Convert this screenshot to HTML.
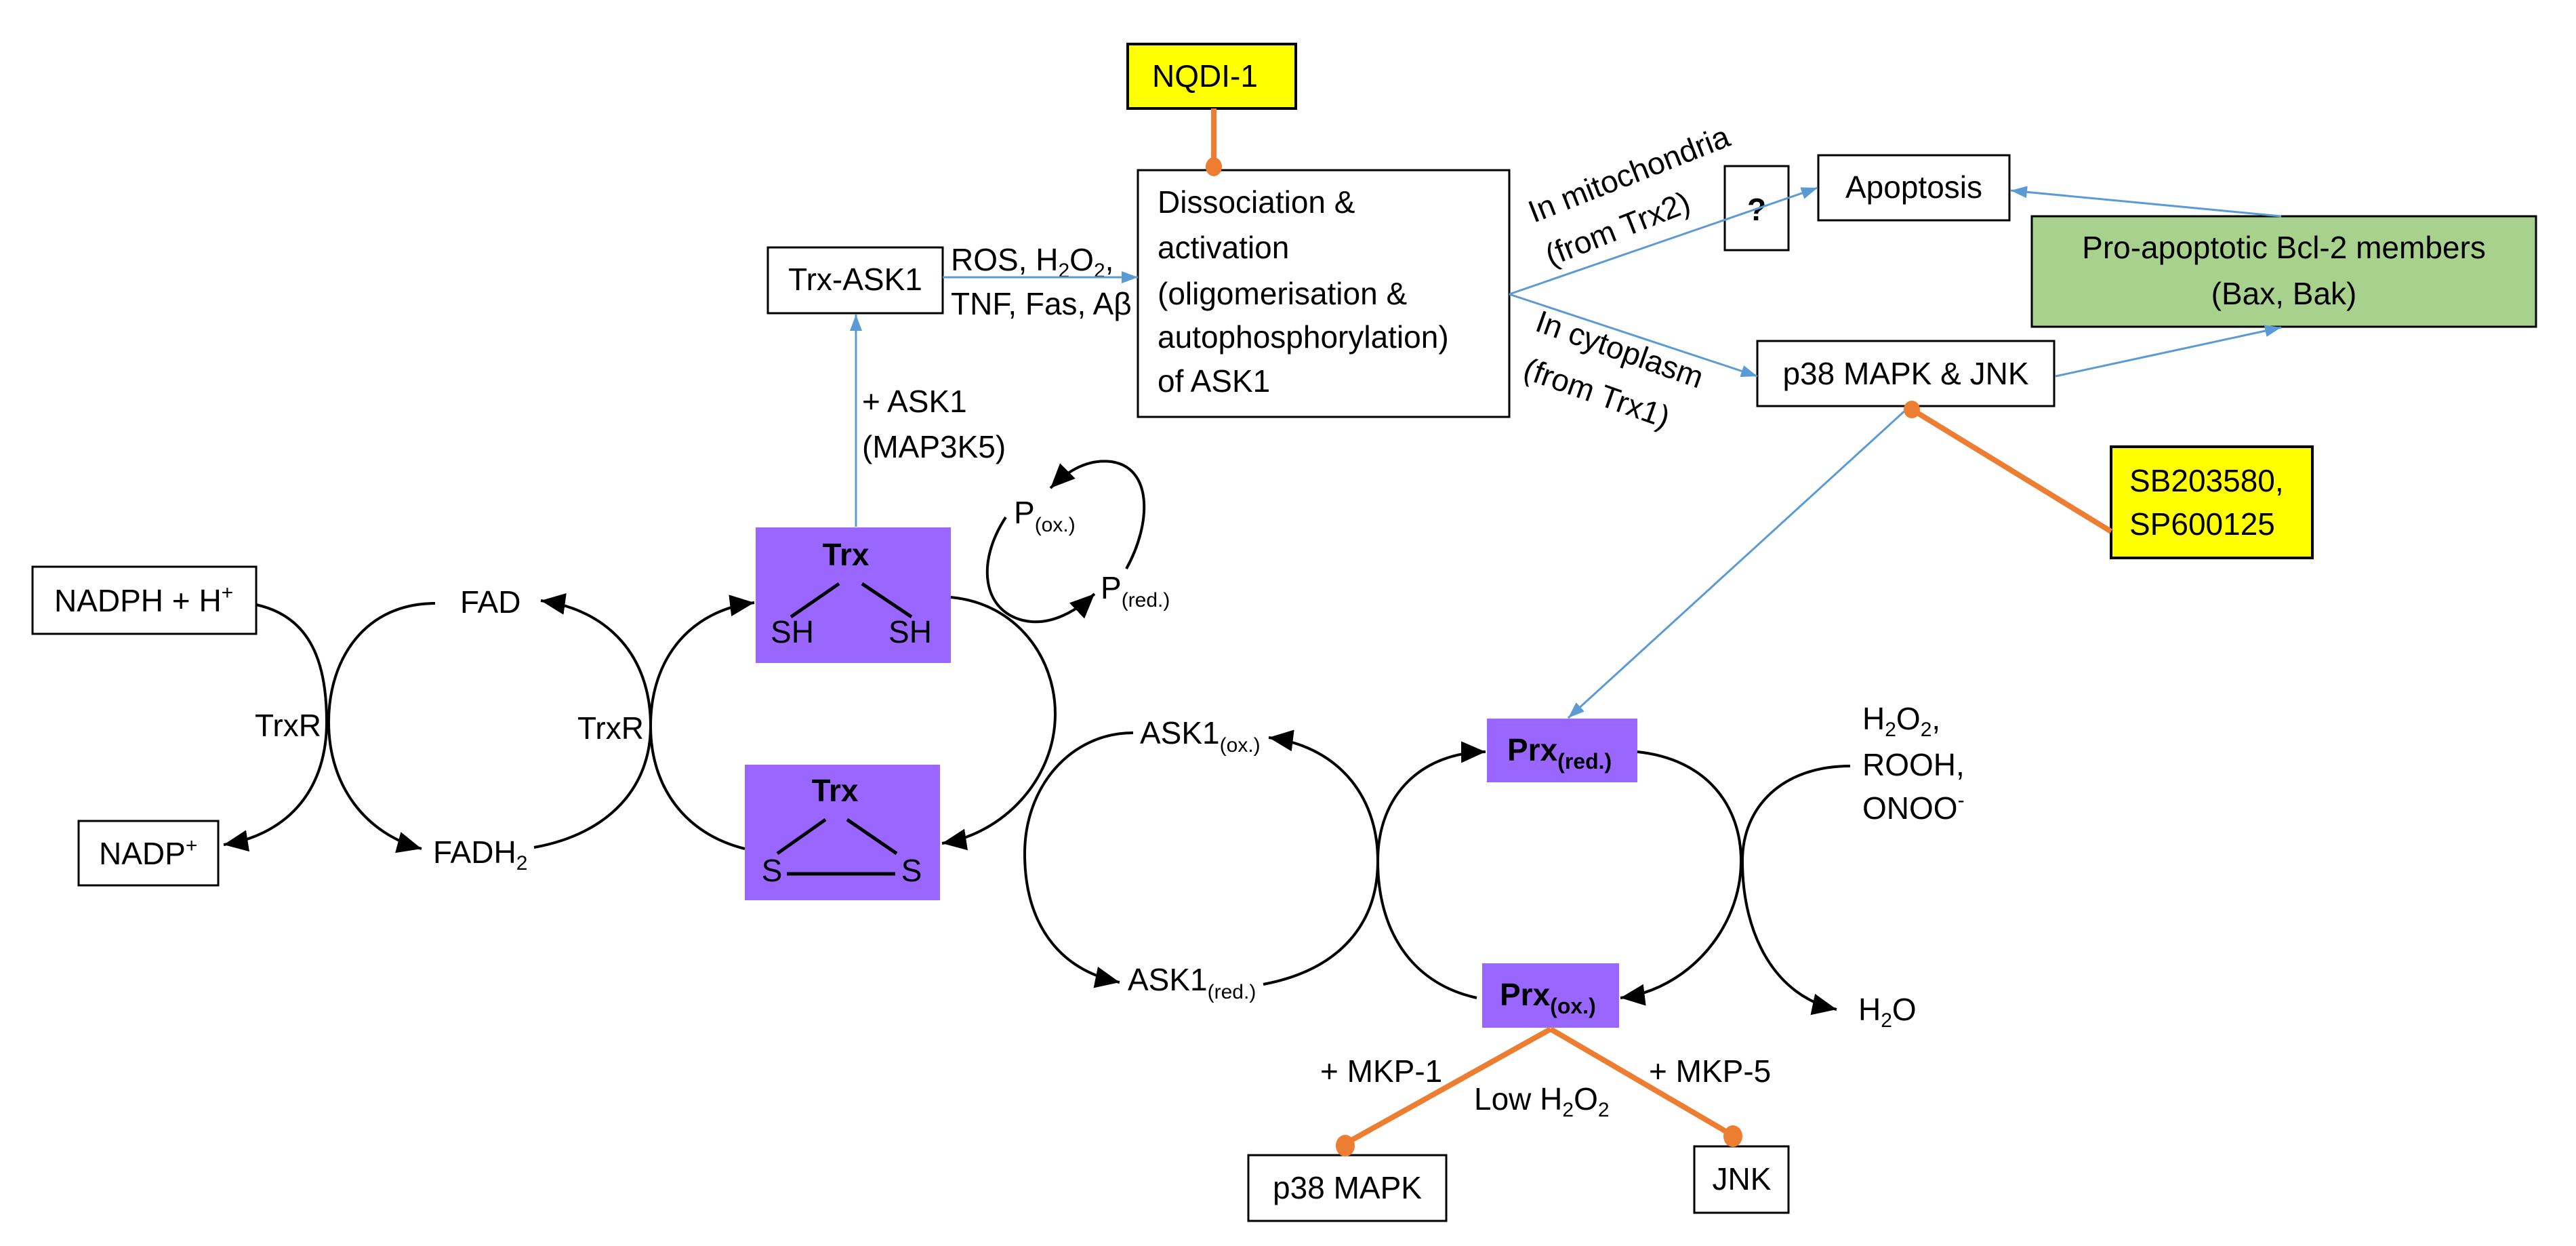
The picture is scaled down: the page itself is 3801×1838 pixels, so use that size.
<!DOCTYPE html>
<html><head><meta charset="utf-8"><style>
html,body{margin:0;padding:0;background:#fff;}
svg{display:block;}
text{font-family:"Liberation Sans",sans-serif;font-size:46px;fill:#000;}
</style></head><body>
<svg width="3801" height="1838" viewBox="0 0 3801 1838" xmlns="http://www.w3.org/2000/svg">
<defs>
<marker id="ab" markerUnits="userSpaceOnUse" markerWidth="40" markerHeight="36" refX="36" refY="16" orient="auto"><path d="M0,0 L36,16 L0,32 z" fill="#000"/></marker>
<marker id="bl" markerUnits="userSpaceOnUse" markerWidth="26" markerHeight="22" refX="24" refY="9" orient="auto"><path d="M0,0 L24,9 L0,18 z" fill="#5b9bd5"/></marker>
</defs>

<!-- boxes -->
<rect x="1664" y="65" width="248" height="95" fill="#ffff00" stroke="#000" stroke-width="4"/>
<text x="1700" y="128">NQDI-1</text>
<rect x="1679" y="251" width="548" height="364" fill="#fff" stroke="#000" stroke-width="3"/>
<text x="1708" y="314">Dissociation &amp;</text>
<text x="1708" y="381">activation</text>
<text x="1708" y="449">(oligomerisation &amp;</text>
<text x="1708" y="513">autophosphorylation)</text>
<text x="1708" y="578">of ASK1</text>

<rect x="1133" y="365" width="258" height="97" fill="#fff" stroke="#000" stroke-width="3"/>
<text x="1262" y="428" text-anchor="middle">Trx-ASK1</text>
<text x="1403" y="399">ROS, H<tspan font-size="30" dy="10">2</tspan><tspan dy="-10">O</tspan><tspan font-size="30" dy="10">2</tspan><tspan dy="-10">,</tspan></text>
<text x="1403" y="464">TNF, Fas, Aβ</text>
<text x="1272" y="608">+ ASK1</text>
<text x="1272" y="675">(MAP3K5)</text>

<rect x="2545" y="245" width="94" height="124" fill="#fff" stroke="#000" stroke-width="3"/>
<text x="2592" y="325" text-anchor="middle" font-weight="bold" font-size="52">?</text>
<rect x="2683" y="229" width="282" height="96" fill="#fff" stroke="#000" stroke-width="3"/>
<text x="2824" y="292" text-anchor="middle">Apoptosis</text>
<rect x="2998" y="319" width="744" height="163" fill="#a9d18e" stroke="#000" stroke-width="3"/>
<text x="3370" y="381" text-anchor="middle">Pro-apoptotic Bcl-2 members</text>
<text x="3370" y="449" text-anchor="middle">(Bax, Bak)</text>
<rect x="2593" y="503" width="438" height="96" fill="#fff" stroke="#000" stroke-width="3"/>
<text x="2812" y="567" text-anchor="middle">p38 MAPK &amp; JNK</text>
<rect x="3115" y="659" width="297" height="164" fill="#ffff00" stroke="#000" stroke-width="4"/>
<text x="3142" y="725">SB203580,</text>
<text x="3142" y="789">SP600125</text>

<text transform="translate(2263,329) rotate(-21.5)">In mitochondria</text>
<text transform="translate(2288,393) rotate(-21.5)">(from Trx2)</text>
<text transform="translate(2263,487) rotate(19.5)">In cytoplasm</text>
<text transform="translate(2245,557) rotate(19.5)">(from Trx1)</text>

<rect x="48" y="836" width="330" height="99" fill="#fff" stroke="#000" stroke-width="3"/>
<text x="80" y="902">NADPH + H<tspan font-size="30" dy="-18">+</tspan></text>
<rect x="116" y="1211" width="206" height="95" fill="#fff" stroke="#000" stroke-width="3"/>
<text x="146" y="1275">NADP<tspan font-size="30" dy="-18">+</tspan></text>
<text x="679" y="904">FAD</text>
<text x="639" y="1273">FADH<tspan font-size="30" dy="10">2</tspan></text>
<text x="376" y="1086">TrxR</text>
<text x="852" y="1090">TrxR</text>

<!-- Trx boxes -->
<rect x="1115" y="778" width="288" height="200" fill="#9966ff"/>
<text x="1248" y="834" text-anchor="middle" font-weight="bold" font-size="38">Trx</text>
<line x1="1238" y1="861" x2="1167" y2="910" stroke="#000" stroke-width="5"/>
<line x1="1272" y1="861" x2="1345" y2="910" stroke="#000" stroke-width="5"/>
<text x="1169" y="948" text-anchor="middle" font-size="38">SH</text>
<text x="1343" y="948" text-anchor="middle" font-size="38">SH</text>
<rect x="1099" y="1128" width="288" height="200" fill="#9966ff"/>
<text x="1232" y="1182" text-anchor="middle" font-weight="bold" font-size="38">Trx</text>
<line x1="1218" y1="1209" x2="1147" y2="1259" stroke="#000" stroke-width="5"/>
<line x1="1250" y1="1209" x2="1323" y2="1259" stroke="#000" stroke-width="5"/>
<text x="1139" y="1300" text-anchor="middle" font-size="38">S</text>
<text x="1345" y="1300" text-anchor="middle" font-size="38">S</text>
<line x1="1161" y1="1289" x2="1321" y2="1289" stroke="#000" stroke-width="5"/>

<text x="1496" y="772">P<tspan font-size="30" dy="12">(ox.)</tspan></text>
<text x="1624" y="883">P<tspan font-size="30" dy="12">(red.)</tspan></text>
<text x="1682" y="1097">ASK1<tspan font-size="30" dy="12">(ox.)</tspan></text>
<text x="1664" y="1461">ASK1<tspan font-size="30" dy="12">(red.)</tspan></text>

<rect x="2194" y="1060" width="222" height="94" fill="#9966ff"/>
<text x="2224" y="1122" font-weight="bold">Prx<tspan font-size="32" dy="12">(red.)</tspan></text>
<rect x="2187" y="1421" width="202" height="95" fill="#9966ff"/>
<text x="2213" y="1483" font-weight="bold">Prx<tspan font-size="32" dy="12">(ox.)</tspan></text>

<text x="2748" y="1076">H<tspan font-size="30" dy="10">2</tspan><tspan dy="-10">O</tspan><tspan font-size="30" dy="10">2</tspan><tspan dy="-10">,</tspan></text>
<text x="2748" y="1144">ROOH,</text>
<text x="2748" y="1208">ONOO<tspan font-size="30" dy="-18">-</tspan></text>
<text x="2742" y="1505">H<tspan font-size="30" dy="10">2</tspan><tspan dy="-10">O</tspan></text>

<text x="1948" y="1596">+ MKP-1</text>
<text x="2433" y="1596">+ MKP-5</text>
<text x="2175" y="1637">Low H<tspan font-size="30" dy="10">2</tspan><tspan dy="-10">O</tspan><tspan font-size="30" dy="10">2</tspan></text>
<rect x="1842" y="1704" width="292" height="97" fill="#fff" stroke="#000" stroke-width="3"/>
<text x="1988" y="1768" text-anchor="middle">p38 MAPK</text>
<rect x="2500" y="1691" width="139" height="98" fill="#fff" stroke="#000" stroke-width="3"/>
<text x="2570" y="1755" text-anchor="middle">JNK</text>

<!-- black curves -->
<g fill="none" stroke="#000" stroke-width="4" marker-end="url(#ab)">
<path d="M378,892 C460,910 482,980 482,1065 C482,1160 430,1230 330,1246"/>
<path d="M642,890 C540,890 485,970 485,1065 C485,1160 540,1230 622,1252"/>
<path d="M788,1250 C900,1230 960,1160 960,1071 C960,970 900,900 798,886"/>
<path d="M1099,1252 C1010,1230 960,1160 960,1071 C960,970 1020,900 1113,889"/>
<path d="M1403,881 C1500,890 1557,970 1557,1053 C1557,1150 1480,1230 1390,1244"/>
<path d="M1672,1081 C1580,1081 1512,1160 1512,1259 C1512,1360 1560,1430 1652,1449"/>
<path d="M1864,1452 C1980,1430 2033,1360 2033,1270 C2033,1170 1970,1100 1872,1088"/>
<path d="M2179,1472 C2080,1450 2033,1370 2033,1270 C2033,1170 2100,1110 2192,1109"/>
<path d="M2416,1109 C2520,1120 2569,1190 2569,1270 C2569,1370 2490,1460 2391,1472"/>
<path d="M2730,1130 C2630,1130 2571,1190 2571,1270 C2571,1380 2620,1470 2710,1489"/>
<path d="M1662,839 C1700,770 1700,690 1640,681 C1600,676 1570,700 1550,720"/>
<path d="M1484,763 C1440,830 1450,900 1509,915 C1550,925 1590,900 1615,876"/>
</g>

<!-- blue arrows -->
<g stroke="#5b9bd5" stroke-width="3" fill="none" marker-end="url(#bl)">
<line x1="1391" y1="409" x2="1679" y2="409"/>
<line x1="1263" y1="777" x2="1263" y2="464"/>
<line x1="2227" y1="434" x2="2682" y2="277"/>
<line x1="2227" y1="434" x2="2593" y2="555"/>
<line x1="3366" y1="319" x2="2967" y2="281"/>
<line x1="3033" y1="555" x2="3366" y2="483"/>
<line x1="2815" y1="602" x2="2314" y2="1059"/>
</g>

<!-- orange inhibitors -->
<g stroke="#ed7d31" stroke-width="8" fill="#ed7d31">
<line x1="1791" y1="160" x2="1791" y2="246"/>
<ellipse cx="1791" cy="246" rx="12" ry="14" stroke="none"/>
<line x1="3115" y1="784" x2="2821" y2="604"/>
<ellipse cx="2821" cy="604" rx="12" ry="13" stroke="none"/>
<line x1="2288" y1="1518" x2="1985" y2="1687"/>
<ellipse cx="1985" cy="1690" rx="14" ry="16" stroke="none"/>
<line x1="2288" y1="1518" x2="2557" y2="1675"/>
<ellipse cx="2557" cy="1676" rx="14" ry="16" stroke="none"/>
</g>
</svg>
</body></html>
